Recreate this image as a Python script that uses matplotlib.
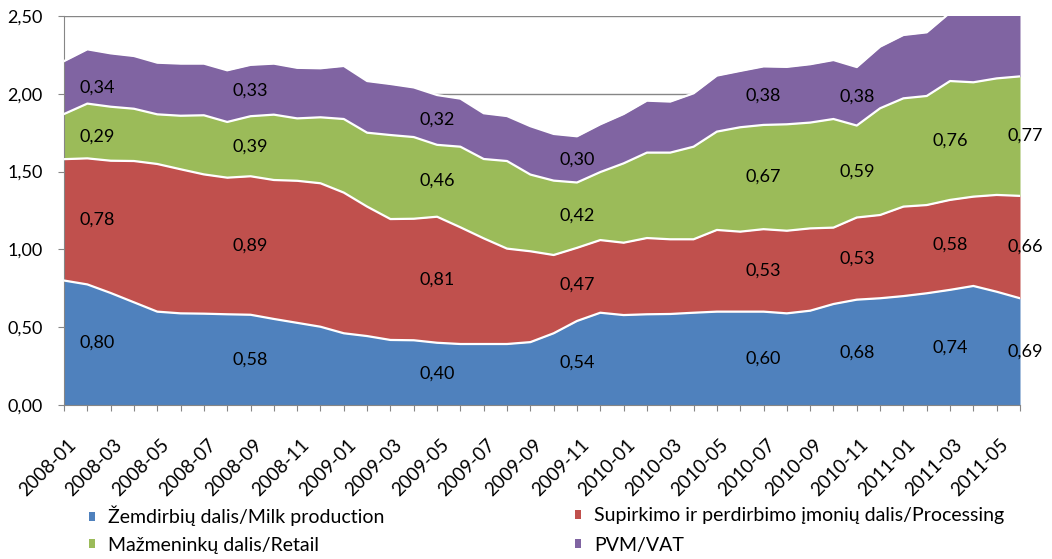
import numpy as np
import matplotlib.pyplot as plt
from matplotlib.patches import Patch
from matplotlib.ticker import FuncFormatter
from matplotlib.transforms import ScaledTranslation

plt.rcParams['font.family'] = ['Lato', 'DejaVu Sans']

# monthly categories 2008-01 .. 2011-06
months = [f"{y}-{m:02d}" for y in range(2008, 2012) for m in range(1, 13)][:42]

# EUR per litre
milk = [0.80, 0.775, 0.72, 0.66, 0.60, 0.589, 0.587, 0.583, 0.58, 0.553,
        0.528, 0.503, 0.461, 0.443, 0.418, 0.416, 0.40, 0.392, 0.392, 0.392,
        0.404, 0.461, 0.54, 0.593, 0.578, 0.583, 0.585, 0.593, 0.60, 0.60,
        0.60, 0.589, 0.606, 0.649, 0.677, 0.686, 0.70, 0.718, 0.74, 0.765,
        0.728, 0.686]
processing = [0.78, 0.81, 0.85, 0.908, 0.949, 0.926, 0.895, 0.878, 0.89, 0.893,
              0.913, 0.922, 0.904, 0.832, 0.777, 0.781, 0.81, 0.75, 0.679, 0.613,
              0.584, 0.503, 0.47, 0.467, 0.465, 0.49, 0.48, 0.472, 0.525, 0.514,
              0.53, 0.531, 0.529, 0.491, 0.528, 0.535, 0.575, 0.567, 0.578, 0.574,
              0.622, 0.658]
retail = [0.29, 0.352, 0.347, 0.336, 0.319, 0.344, 0.38, 0.358, 0.386, 0.42,
          0.401, 0.424, 0.473, 0.475, 0.54, 0.525, 0.462, 0.518, 0.51, 0.563,
          0.493, 0.478, 0.42, 0.437, 0.51, 0.549, 0.557, 0.595, 0.632, 0.671,
          0.67, 0.684, 0.68, 0.698, 0.591, 0.686, 0.696, 0.701, 0.764, 0.735,
          0.749, 0.768]
vat = [0.34, 0.349, 0.343, 0.339, 0.332, 0.335, 0.332, 0.332, 0.33, 0.328,
       0.325, 0.315, 0.341, 0.332, 0.328, 0.319, 0.32, 0.309, 0.294, 0.289,
       0.311, 0.30, 0.297, 0.307, 0.317, 0.334, 0.328, 0.343, 0.36, 0.362,
       0.376, 0.369, 0.375, 0.379, 0.376, 0.396, 0.407, 0.409, 0.44, 0.44,
       0.44, 0.44]

series_names = ['Žemdirbių dalis/Milk production',
                'Supirkimo ir perdirbimo įmonių dalis/Processing',
                'Mažmeninkų dalis/Retail',
                'PVM/VAT']
colors = ['#4F81BD', '#C0504D', '#9BBB59', '#8064A2']

# months that carry data labels
label_idx = [0, 8, 16, 22, 30, 34, 38, 41]

fig = plt.figure(figsize=(10.52, 5.59), dpi=100)
ax = fig.add_axes([64 / 1052, 1 - 405 / 559, 956 / 1052, 389 / 559])

x = np.arange(len(months))
layers = np.array([milk, processing, retail, vat])
tops = np.cumsum(layers, axis=0)
bottoms = tops - layers

for k in range(4):
    ax.fill_between(x, bottoms[k], tops[k], color=colors[k], lw=0, zorder=2)
for k in range(4):
    ax.plot(x, tops[k], color='white', lw=1.6, zorder=3)

# data labels in the middle of each band
for i in label_idx:
    if i == 0:
        dx = 24
    elif i == len(months) - 1:
        dx = 4
    else:
        dx = 0
    for k in range(4):
        if tops[k][i] > 2.5:
            continue
        ymid = bottoms[k][i] + layers[k][i] / 2
        ax.annotate(f"{layers[k][i]:.2f}".replace('.', ','), (x[i], ymid),
                    xytext=(dx, 0), textcoords='offset points',
                    ha='center', va='center', fontsize=13, color='black',
                    zorder=5, annotation_clip=False)

ax.set_xlim(0, len(months) - 1)
ax.set_ylim(0, 2.5)
ax.set_yticks(np.arange(0, 2.51, 0.5))
ax.yaxis.set_major_formatter(FuncFormatter(lambda v, p: f"{v:.2f}".replace('.', ',')))
ax.set_xticks(x)

ax.yaxis.grid(True, color='#868686', lw=1)
ax.set_axisbelow(True)
for s in ['top', 'right']:
    ax.spines[s].set_visible(False)
for s in ['left', 'bottom']:
    ax.spines[s].set_color('#868686')
ax.tick_params(axis='both', colors='#868686', labelcolor='black',
               length=4.3, direction='out')
ax.tick_params(axis='y', pad=11, labelsize=13)
ax.tick_params(axis='x', pad=10)

# rotated month labels, nudged after tick_params so the offset survives
ax.set_xticklabels([m if i % 2 == 0 else '' for i, m in enumerate(months)],
                   rotation=45, ha='right', rotation_mode='anchor', fontsize=13.5)
shift = ScaledTranslation(3 / 100, -11 / 100, fig.dpi_scale_trans)
for lbl in ax.get_xticklabels():
    lbl.set_transform(lbl.get_transform() + shift)

# one legend per entry so the two columns line up like the original
handles = [Patch(facecolor=c, edgecolor='none') for c in colors]
leg_kw = dict(loc='center left', frameon=False, fontsize=14, handlelength=0.32,
              handleheight=0.32, handletextpad=0.65, borderpad=0,
              borderaxespad=0)
leg_pos = [(89, 516), (575, 516), (89, 545), (575, 545)]
for k in range(4):
    fig.legend([handles[k]], [series_names[k]],
               bbox_to_anchor=(leg_pos[k][0] / 1052, 1 - leg_pos[k][1] / 559),
               **leg_kw)

fig.savefig('out.png', dpi=100)
